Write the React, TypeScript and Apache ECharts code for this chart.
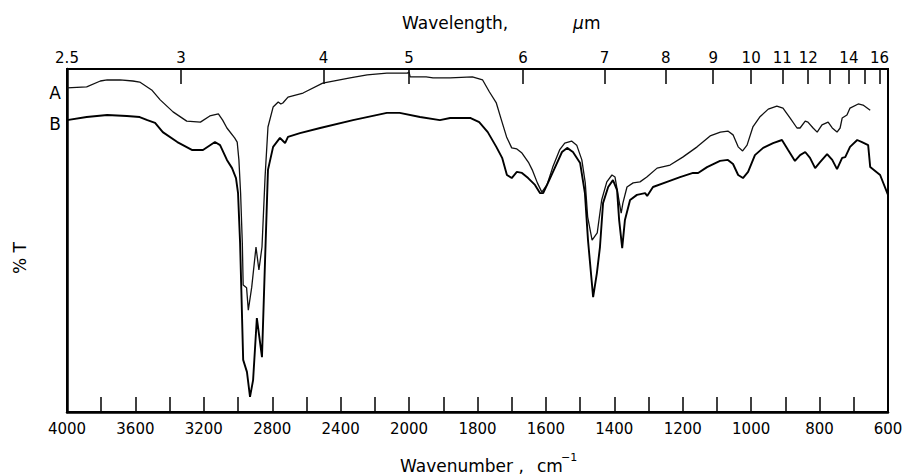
import React, { useEffect, useRef } from "react";
import * as echarts from "echarts";

// Curve A (upper trace): wavenumber (cm-1) and transmittance (%)
const wavenumbersA = [4000,3885,3805,3765,3690,3615,3575,3505,3455,3380,3300,3220,3165,3115,3090,3065,3020,3005,2995,2985,2975,2970,2950,2940,2920,2895,2878,2860,2842,2825,2795,2765,2750,2738,2708,2620,2505,2345,2245,2130,2010,2000,1997,1950,1930,1880,1815,1785,1765,1745,1730,1715,1700,1685,1670,1650,1640,1625,1612,1597,1580,1560,1545,1525,1510,1495,1485,1478,1465,1450,1437,1422,1407,1398,1390,1380,1375,1363,1345,1325,1305,1275,1237,1200,1158,1120,1090,1068,1053,1038,1025,1012,995,975,950,925,907,886,866,857,842,834,819,807,793,775,763,749,740,734,720,711,687,673,652];
const transmittanceA = [94.5,94.8,96.5,96.8,96.8,96.5,96.2,93.9,91.0,87.5,84.8,84.5,86.3,86.9,85.1,82.8,79.9,78.7,73.5,63.8,49.3,37.0,36.2,29.7,36.4,48.1,41.4,48.1,68.5,83.1,88.9,90.4,89.8,90.1,91.8,93.0,95.9,97.4,98.3,98.8,98.8,99.1,97.7,97.7,97.4,97.4,97.7,96.8,93.3,90.1,85.1,80.2,77.0,76.7,75.5,72.6,70.6,66.8,64.1,66.2,71.4,76.4,78.4,79.0,77.8,73.5,66.8,56.9,50.1,52.2,61.8,67.1,69.1,68.5,63.8,58.0,60.9,65.6,66.8,67.1,68.5,71.1,72.0,74.3,77.3,80.5,81.6,81.9,80.8,77.3,76.1,77.8,83.1,86.0,88.3,89.2,88.6,85.7,82.8,82.8,84.8,84.5,82.8,81.6,83.7,84.5,82.8,81.6,82.8,85.7,86.6,88.6,89.8,89.5,88.0];

// Curve B (lower trace)
const wavenumbersB = [4000,3885,3765,3650,3575,3530,3485,3440,3355,3270,3205,3135,3105,3065,3035,3012,3000,2988,2970,2948,2930,2912,2890,2860,2842,2825,2795,2755,2737,2725,2708,2638,2520,2328,2130,2055,1968,1910,1880,1820,1795,1770,1745,1728,1714,1700,1685,1670,1652,1632,1617,1608,1594,1573,1553,1538,1521,1500,1486,1477,1462,1451,1442,1433,1418,1404,1392,1386,1377,1369,1354,1334,1310,1304,1287,1246,1208,1170,1155,1129,1091,1068,1053,1038,1024,1009,989,965,936,910,892,872,857,842,828,813,798,778,763,749,734,725,711,690,676,658,652,623,600];
const transmittanceB = [85.1,86.0,86.6,86.3,86.0,85.1,84.3,81.6,78.7,76.4,76.4,78.7,77.8,73.5,71.1,68.2,63.8,49.3,15.2,11.7,4.4,9.3,27.4,16.0,44.3,70.6,77.3,79.9,79.0,78.4,80.2,81.3,82.8,85.1,87.2,87.2,86.0,85.1,85.7,85.7,84.5,81.6,77.3,74.1,69.1,68.2,70.0,69.7,68.2,66.2,63.8,63.8,66.8,71.4,75.8,77.0,75.8,72.6,63.8,50.1,33.5,40.5,48.1,60.9,65.6,67.6,64.7,56.0,47.8,56.0,61.8,63.3,63.8,63.0,65.6,67.1,68.5,69.7,69.7,71.4,73.2,73.5,72.3,69.1,68.2,70.0,74.9,77.0,78.4,79.3,76.4,73.2,74.9,75.8,74.1,71.1,72.9,75.2,73.5,70.8,74.1,74.3,77.3,79.3,78.7,77.8,71.4,69.1,63.3];

// Axis ticks and labels
const bottomTickWavenumbers = [4000,3800,3600,3400,3200,3000,2800,2600,2400,2200,2000,1900,1800,1700,1600,1500,1400,1300,1200,1100,1000,900,800,700,600];
const bottomLabelWavenumbers = [4000,3600,3200,2800,2400,2000,1800,1600,1400,1200,1000,800,600];
const topTickMicrons = [3,4,5,6,7,8,9,10,11,12,13,14,15,16];
const topLabelMicrons = [2.5,3,4,5,6,7,8,9,10,11,12,14,16];

// Spectrometer scale: 4000-2000 cm-1 at half the scale of 2000-600 cm-1
function toChartX(wn: number): number {
  return wn >= 2000 ? (4000 - wn) / 2 : 1000 + (2000 - wn);
}
function fromChartX(u: number): number {
  return u <= 1000 ? 4000 - 2 * u : 2000 - (u - 1000);
}

const FONT = "DejaVu Sans, sans-serif";

export default function App() {
  const ref = useRef<HTMLDivElement>(null);
  useEffect(() => {
    if (!ref.current) return;
    const chart = echarts.init(ref.current, null, { renderer: "svg" });
    const dataA = wavenumbersA.map((w, i) => [toChartX(w), transmittanceA[i]]);
    const dataB = wavenumbersB.map((w, i) => [toChartX(w), transmittanceB[i]]);
    const topTicks = topTickMicrons.map((m) => toChartX(10000 / m));
    const topLabels = topLabelMicrons.map((m) => toChartX(10000 / m));
    chart.setOption({
      animation: false,
      backgroundColor: "#fff",
      grid: {
        left: 67,
        right: 21,
        top: 69,
        bottom: 63,
        show: true,
        borderColor: "#000",
        borderWidth: 2,
      },
      xAxis: [
        {
          type: "value",
          position: "bottom",
          min: 0,
          max: 2400,
          axisLine: { show: true, lineStyle: { color: "#000", width: 2.5 } },
          axisTick: {
            show: true,
            inside: true,
            length: 15,
            lineStyle: { color: "#000", width: 1.5 },
            customValues: bottomTickWavenumbers.map(toChartX),
          },
          axisLabel: {
            show: true,
            margin: 9,
            color: "#000",
            fontSize: 15,
            fontFamily: FONT,
            customValues: bottomLabelWavenumbers.map(toChartX),
            formatter: (v: number) => String(Math.round(fromChartX(v))),
          },
          splitLine: { show: false },
        },
        {
          type: "value",
          position: "top",
          min: 0,
          max: 2400,
          axisLine: { show: true, lineStyle: { color: "#000", width: 2 } },
          axisTick: {
            show: true,
            inside: true,
            length: 15,
            lineStyle: { color: "#000", width: 1.5 },
            customValues: topTicks,
          },
          axisLabel: {
            show: true,
            margin: 4,
            color: "#000",
            fontSize: 15,
            fontFamily: FONT,
            customValues: topLabels,
            formatter: (v: number) => {
              const um = 10000 / fromChartX(v);
              return String(Number(um.toFixed(1)));
            },
          },
          splitLine: { show: false },
        },
      ],
      yAxis: {
        type: "value",
        min: 0,
        max: 100,
        axisLine: { show: true, lineStyle: { color: "#000", width: 2.5 } },
        axisTick: { show: false },
        axisLabel: { show: false },
        splitLine: { show: false },
      },
      series: [
        {
          name: "A",
          type: "line",
          xAxisIndex: 0,
          data: dataA,
          showSymbol: false,
          lineStyle: { color: "#111", width: 1.3 },
        },
        {
          name: "B",
          type: "line",
          xAxisIndex: 0,
          data: dataB,
          showSymbol: false,
          lineStyle: { color: "#000", width: 1.9 },
        },
      ],
      graphic: [
        {
          type: "text",
          x: 402,
          y: 23,
          style: { text: "Wavelength,", font: `17px ${FONT}`, fill: "#000", textAlign: "left", textVerticalAlign: "middle", align: "left", verticalAlign: "middle" },
        },
        {
          type: "text",
          x: 573,
          y: 23,
          style: { text: "μ", font: `italic 17px ${FONT}`, fill: "#000", textAlign: "left", textVerticalAlign: "middle", align: "left", verticalAlign: "middle" },
        },
        {
          type: "text",
          x: 584,
          y: 23,
          style: { text: "m", font: `17px ${FONT}`, fill: "#000", textAlign: "left", textVerticalAlign: "middle", align: "left", verticalAlign: "middle" },
        },
        {
          type: "text",
          x: 400,
          y: 466,
          style: { text: "Wavenumber ,", font: `17px ${FONT}`, fill: "#000", textAlign: "left", textVerticalAlign: "middle", align: "left", verticalAlign: "middle" },
        },
        {
          type: "text",
          x: 537,
          y: 466,
          style: { text: "cm", font: `17px ${FONT}`, fill: "#000", textAlign: "left", textVerticalAlign: "middle", align: "left", verticalAlign: "middle" },
        },
        {
          type: "text",
          x: 561,
          y: 457,
          style: { text: "−1", font: `11px ${FONT}`, fill: "#000", textAlign: "left", textVerticalAlign: "middle", align: "left", verticalAlign: "middle" },
        },
        {
          type: "text",
          x: 20,
          y: 258,
          rotation: Math.PI / 2,
          style: { text: "% T", font: `17px ${FONT}`, fill: "#000", textAlign: "center", textVerticalAlign: "middle", align: "center", verticalAlign: "middle" },
        },
        {
          type: "text",
          x: 55,
          y: 93,
          style: { text: "A", font: `17px ${FONT}`, fill: "#000", textAlign: "center", textVerticalAlign: "middle", align: "center", verticalAlign: "middle" },
        },
        {
          type: "text",
          x: 55,
          y: 124,
          style: { text: "B", font: `17px ${FONT}`, fill: "#000", textAlign: "center", textVerticalAlign: "middle", align: "center", verticalAlign: "middle" },
        },
      ],
    });
    return () => chart.dispose();
  }, []);
  return (
    <div
      ref={ref}
      style={{ position: "fixed", left: 0, top: 0, width: 909, height: 475, background: "#fff" }}
    />
  );
}
